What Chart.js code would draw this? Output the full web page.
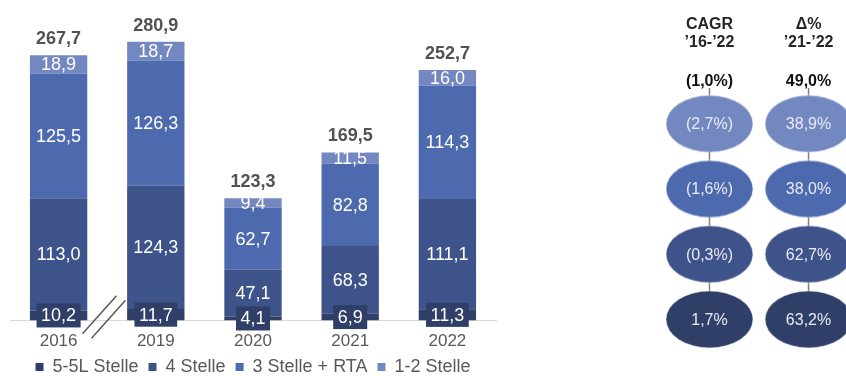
<!DOCTYPE html>
<html>
<head>
<meta charset="utf-8">
<script src="https://cdn.jsdelivr.net/npm/chart.js@4.4.0/dist/chart.umd.min.js"></script>
<style>
  html, body { margin: 0; padding: 0; background: #fff; overflow: hidden; }
  #wrap { position: relative; width: 846px; height: 376px; overflow: hidden; }
  #barChart { position: absolute; left: 0; top: 0; }
  #growthChart { position: absolute; left: 630px; top: 0; }
</style>
</head>
<body>
<div id="wrap">
  <canvas id="barChart" width="506" height="376"></canvas>
  <canvas id="growthChart" width="260" height="376"></canvas>
</div>
<script>
// Data
const years = ["2016", "2019", "2020", "2021", "2022"];
const seriesNames = ["5-5L Stelle", "4 Stelle", "3 Stelle + RTA", "1-2 Stelle"];
const stelle5 = [10.2, 11.7, 4.1, 6.9, 11.3];
const stelle4 = [113.0, 124.3, 47.1, 68.3, 111.1];
const stelle3 = [125.5, 126.3, 62.7, 82.8, 114.3];
const stelle12 = [18.9, 18.7, 9.4, 11.5, 16.0];
const totals = [267.7, 280.9, 123.3, 169.5, 252.7];

// growth table, rows top -> bottom: 1-2, 3 + RTA, 4, 5-5L
const growthHeaders = [["CAGR", "’16-’22"], ["Δ%", "’21-’22"]];
const growthTotal = ["(1,0%)", "49,0%"];
const cagrRows = ["(2,7%)", "(1,6%)", "(0,3%)", "1,7%"];
const deltaRows = ["38,9%", "38,0%", "62,7%", "63,2%"];

const FONT = "'Liberation Sans', Arial, sans-serif";
const colors = ["#2f3f68", "#3e5389", "#4e6aae", "#7388c1"];

const fmt = v => v.toFixed(1).replace(".", ",");

// labels inside bars, totals on top, axis break marks
const barLabels = {
  id: "barLabels",
  afterDatasetsDraw(chart) {
    const ctx = chart.ctx;
    ctx.save();
    ctx.textAlign = "center";
    ctx.textBaseline = "middle";
    ctx.font = `18px ${FONT}`;
    chart.data.datasets.forEach((ds, di) => {
      const meta = chart.getDatasetMeta(di);
      meta.data.forEach((bar, i) => {
        const txt = fmt(ds.data[i]);
        const cy = (bar.y + bar.base) / 2;
        if (di === 0) {
          const w = ctx.measureText(txt).width + 9;
          ctx.fillStyle = ds.backgroundColor;
          ctx.fillRect(bar.x - w / 2, cy - 12, w, 24);
        }
        ctx.fillStyle = "#ffffff";
        ctx.fillText(txt, bar.x, cy + 1);
      });
    });

    const topMeta = chart.getDatasetMeta(chart.data.datasets.length - 1);
    ctx.font = `bold 18px ${FONT}`;
    ctx.fillStyle = "#525252";
    topMeta.data.forEach((bar, i) => {
      ctx.fillText(fmt(totals[i]), bar.x, bar.y - 16);
    });

    // "//" break between 2016 and 2019
    const xs = chart.scales.x;
    const mid = (xs.getPixelForValue(0) + xs.getPixelForValue(1)) / 2;
    const base = chart.scales.y.getPixelForValue(0);
    ctx.strokeStyle = "#595959";
    ctx.lineWidth = 1.5;
    [[-7.7, -5.7], [1.3, -1.2]].forEach(([dx, dy]) => {
      ctx.beginPath();
      ctx.moveTo(mid + dx + 17, base + dy - 19);
      ctx.lineTo(mid + dx - 17, base + dy + 19);
      ctx.stroke();
    });
    ctx.restore();
  }
};

new Chart(document.getElementById("barChart"), {
  type: "bar",
  data: {
    labels: years,
    datasets: [
      { label: seriesNames[0], data: stelle5, backgroundColor: colors[0] },
      { label: seriesNames[1], data: stelle4, backgroundColor: colors[1] },
      { label: seriesNames[2], data: stelle3, backgroundColor: colors[2] },
      { label: seriesNames[3], data: stelle12, backgroundColor: colors[3] }
    ]
  },
  options: {
    responsive: false,
    animation: false,
    layout: { padding: { left: 10, right: 10, top: 23, bottom: -10 } },
    datasets: { bar: { barPercentage: 0.59, categoryPercentage: 1 } },
    scales: {
      x: {
        stacked: true,
        grid: { display: false, drawTicks: false },
        border: { display: true, color: "#d9d9d9", width: 1 },
        ticks: { color: "#595959", font: { size: 17, family: FONT }, padding: 11 },
        afterFit(scale) { scale.height = 27.5; }
      },
      y: { stacked: true, display: false, min: 0, max: 300 }
    },
    plugins: {
      legend: {
        position: "bottom",
        labels: { boxWidth: 8, boxHeight: 8, padding: 10, color: "#595959", font: { size: 18, family: FONT } }
      },
      tooltip: { enabled: false }
    }
  },
  plugins: [barLabels]
});

// ellipse markers for the growth table
function ellipseImg(color) {
  const c = document.createElement("canvas");
  c.width = 89;
  c.height = 59;
  const g = c.getContext("2d");
  g.beginPath();
  g.ellipse(44.5, 29.5, 43.5, 28.5, 0, 0, Math.PI * 2);
  g.fillStyle = color;
  g.fill();
  g.strokeStyle = "rgba(255,255,255,0.5)";
  g.lineWidth = 1;
  g.stroke();
  return c;
}
const rowColors = [colors[3], colors[2], colors[1], colors[0]];
const ellipses = rowColors.map(ellipseImg);

const growthText = {
  id: "growthText",
  afterDatasetsDraw(chart) {
    const ctx = chart.ctx;
    const xs = chart.scales.x, ys = chart.scales.y;
    ctx.save();
    ctx.textAlign = "center";
    ctx.textBaseline = "middle";
    growthHeaders.forEach((lines, col) => {
      const x = xs.getPixelForValue(col);
      ctx.font = `bold 16px ${FONT}`;
      ctx.fillStyle = "#262626";
      ctx.fillText(lines[0], x, ys.getPixelForValue(-0.522));
      ctx.fillText(lines[1], x, ys.getPixelForValue(-0.239));
      ctx.fillStyle = "#111111";
      ctx.fillText(growthTotal[col], x, ys.getPixelForValue(0.358));
    });
    ctx.font = `16px ${FONT}`;
    ctx.fillStyle = "#e8ebf3";
    [cagrRows, deltaRows].forEach((rows, col) => {
      const meta = chart.getDatasetMeta(col);
      meta.data.forEach((pt, r) => ctx.fillText(rows[r], pt.x, pt.y + 1));
    });
    ctx.restore();
  }
};

const connector = col => ({
  type: "line",
  data: [{ x: col, y: 0.45 }, { x: col, y: cagrRows.length }],
  borderColor: "#7f7f7f",
  borderWidth: 1.5,
  pointRadius: 0,
  clip: false
});

new Chart(document.getElementById("growthChart"), {
  type: "scatter",
  data: {
    datasets: [
      {
        data: cagrRows.map((v, r) => ({ x: 0, y: r + 1 })),
        pointStyle: ctx => ellipses[ctx.dataIndex],
        clip: false
      },
      {
        data: deltaRows.map((v, r) => ({ x: 1, y: r + 1 })),
        pointStyle: ctx => ellipses[ctx.dataIndex],
        clip: false
      },
      connector(0),
      connector(1)
    ]
  },
  options: {
    responsive: false,
    animation: false,
    layout: { padding: 0 },
    scales: {
      x: { type: "linear", display: false, min: -0.752, max: 1.772 },
      y: { type: "linear", display: false, reverse: true, min: -0.821, max: 4.791 }
    },
    plugins: { legend: { display: false }, tooltip: { enabled: false } }
  },
  plugins: [growthText]
});
</script>
</body>
</html>
